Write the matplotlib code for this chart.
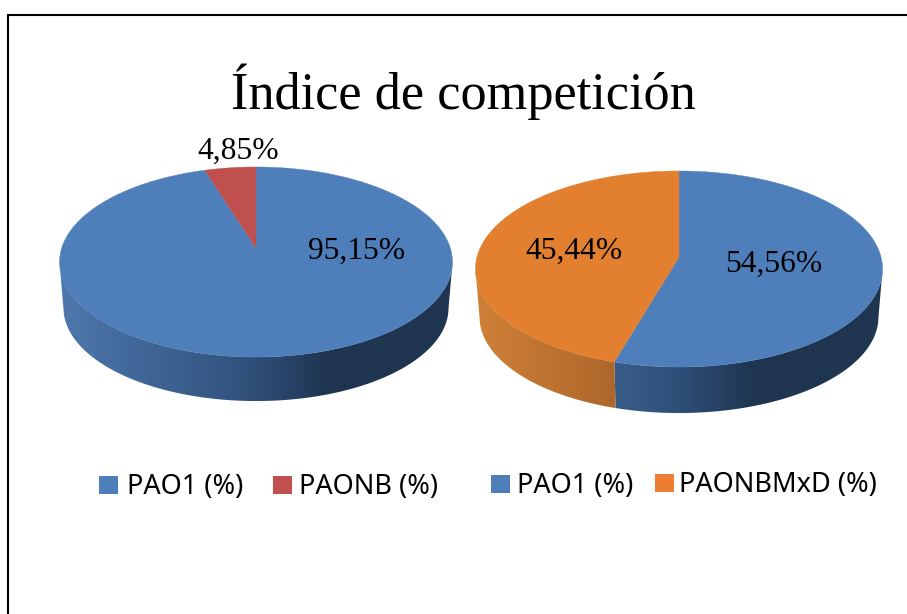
import matplotlib
matplotlib.use('Agg')
import matplotlib.pyplot as plt
from matplotlib.colors import LinearSegmentedColormap
from matplotlib.patches import Polygon, Rectangle
import numpy as np

# data
title = 'Índice de competición'
left_names = ['PAO1 (%)', 'PAONB (%)']
left_values = [95.15, 4.85]
right_names = ['PAO1 (%)', 'PAONBMxD (%)']
right_values = [54.56, 45.44]

BLUE = '#4E7FBB'
RED = '#C0504D'
ORANGE = '#E28030'
SERIF = 'Liberation Serif'
SANS = 'Noto Sans'

# side shading, left to right across the pie
BLUE_SIDE = [(0, '#4E78AE'), (0.5, '#2F4F79'), (0.68, '#1F3550'), (1, '#1F3550')]
RED_SIDE = [(0, '#A04340'), (1, '#5E2725')]
ORANGE_SIDE = [(0, '#D08038'), (0.34, '#AE672B'), (1, '#7A4A20')]

fig = plt.figure(figsize=(9.07, 6.14), dpi=100)
ax = fig.add_axes([0, 0, 1, 1])


def rim(theta, cx, cy, R, k, a, s=1.0, dy=0.0):
    # theta clockwise from the top of the pie, simple perspective on the circle
    u, v = np.sin(theta), np.cos(theta)
    w = 1 + k * v
    return cx + s * R * u / w, cy + dy + s * ((cy - a * v) / w - cy)


def pie3d(values, colors, sides, cx, cy, R, k, a, dy):
    edges = np.cumsum([0] + list(values)) / sum(values) * 2 * np.pi
    x0, x1 = cx - R * 1.01, cx + R * 1.01
    grad = np.linspace(0, 1, 512).reshape(1, -1)
    for i in range(len(values)):
        th = np.linspace(edges[i], edges[i + 1], 500)
        # stop where the rim turns away, that is the outline of the side wall
        th = th[np.cos(th) <= -k]
        if len(th) == 0:
            continue
        xt, yt = rim(th, cx, cy, R, k, a)
        xb, yb = rim(th, cx, cy, R, k, a, s=0.98, dy=dy)
        pts = np.r_[np.c_[xt, yt], np.c_[xb, yb][::-1]]
        poly = Polygon(pts, closed=True, fc='none', ec='none')
        ax.add_patch(poly)
        cmap = LinearSegmentedColormap.from_list('side', sides[i])
        im = ax.imshow(grad, extent=[x0, x1, 420, 250], cmap=cmap, vmin=0, vmax=1,
                       aspect='auto', zorder=1)
        im.set_clip_path(poly)
    for i in range(len(values)):
        th = np.linspace(edges[i], edges[i + 1], 500)
        xt, yt = rim(th, cx, cy, R, k, a)
        pts = np.r_[[[cx, cy]], np.c_[xt, yt]]
        ax.add_patch(Polygon(pts, closed=True, fc=colors[i], ec=colors[i], lw=0.3, zorder=2))


pie3d(left_values, [BLUE, RED], [BLUE_SIDE, RED_SIDE],
      cx=256, cy=248, R=194.3, k=0.1474, a=56.4, dy=46.2)
pie3d(right_values, [BLUE, ORANGE], [BLUE_SIDE, ORANGE_SIDE],
      cx=679, cy=257, R=202, k=0.1224, a=65.1, dy=48.2)

# frame
ax.plot([8, 8, 907], [614, 15, 15], color='black', lw=1.5, solid_joinstyle='miter', zorder=3)

ax.text(463.5, 92, title, family=SERIF, fontsize=37.6, ha='center', va='center', color='black', zorder=4)


def pct(v):
    return f'{v:.2f}%'.replace('.', ',')


for x, y, v in [(357, 251, left_values[0]), (238, 151, left_values[1]),
                (774, 264, right_values[0]), (574, 251, right_values[1])]:
    ax.text(x, y, pct(v), family=SERIF, fontsize=22.7, ha='center', va='center', color='black', zorder=4)

# legends
entries = [(99, 476, BLUE, 127, left_names[0]), (273, 476, RED, 299, left_names[1]),
           (491, 475, BLUE, 517, right_names[0]), (655, 474, '#ED7D31', 679, right_names[1])]
for x, y, c, tx, name in entries:
    ax.add_patch(Rectangle((x, y), 19, 18, fc=c, ec='none', zorder=3))
    ax.text(tx, y + 11, name, family=SANS, fontsize=19.5, ha='left', va='center', color='black', zorder=4)

ax.set_xlim(0, 907)
ax.set_ylim(614, 0)
ax.axis('off')
fig.savefig('out.png', dpi=100, facecolor='white')
